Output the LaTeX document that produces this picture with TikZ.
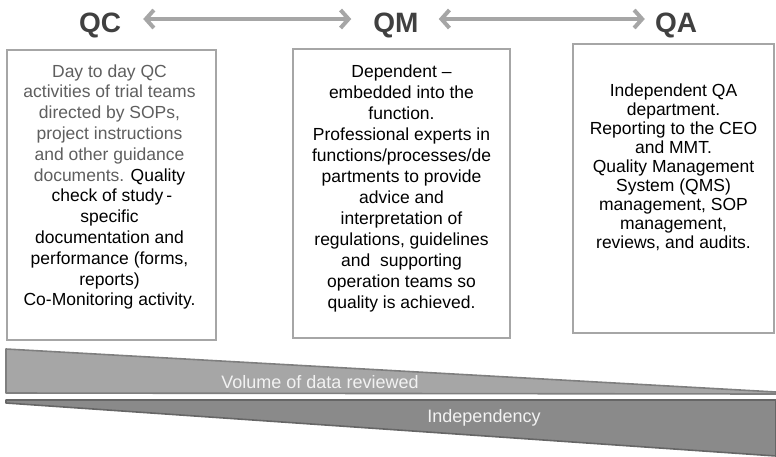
\documentclass[tikz,border=0pt]{standalone}
\usepackage{fontspec}
\setmainfont{Liberation Sans}
\usepackage{tikz}
\usetikzlibrary{arrows.meta,positioning}
\definecolor{titlegray}{HTML}{404040}
\definecolor{arrowgray}{HTML}{A6A6A6}
\definecolor{framegray}{HTML}{A6A6A6}
\definecolor{softtext}{HTML}{5F5F5F}
\definecolor{wedgelight}{HTML}{A6A6A6}
\definecolor{wedgedark}{HTML}{8A8A8A}
\definecolor{edgelight}{HTML}{7F7F7F}
\definecolor{edgedark}{HTML}{666666}

\begin{document}
\begin{tikzpicture}[x=1pt,y=-1pt,
		title/.style={inner sep=0pt,text height=20pt,text depth=0pt,text=titlegray,font=\fontsize{28}{30}\selectfont\bfseries},
		twoway/.style={arrowgray,line width=4pt,{Straight Barb[length=8pt,width=18pt]}-{Straight Barb[length=8pt,width=18pt]}},
		panel/.style={draw=framegray,line width=1.6pt,fill=white,inner sep=0pt},
		panetext/.style={inner sep=0pt,align=center,font=\fontsize{17.5}{#1}\selectfont},
		panetext/.default={20.8},
		bandtext/.style={inner sep=0pt,text=white!95!black,font=\fontsize{18}{20}\selectfont}]
	%\draw (0,0) grid[step=50] (776,456);
	\useasboundingbox (0,0) rectangle (776,456);
	% headings
	\node[title] (qc) at (100,22) {QC};
	\node[title] (qm) at (396,22) {QM};
	\node[title] (qa) at (676,22) {QA};
	\draw[twoway,shorten <=22pt,shorten >=22pt] ([yshift=3pt]qc.east) -- ([yshift=3pt]qm.west);
	\draw[twoway,shorten <=20pt,shorten >=10pt] ([yshift=3pt]qm.east) -- ([yshift=3pt]qa.west);
	% three boxes
	\node[panel,minimum width=209pt,minimum height=290pt] (qcbox) at (111.5,195) {};
	\node[panel,minimum width=217pt,minimum height=289pt] (qmbox) at (401.5,193.5) {};
	\node[panel,minimum width=201pt,minimum height=289pt] (qabox) at (673.5,188.5) {};
	\node[panetext,below=15pt of qcbox.north,xshift=-2pt] (qctext) {\color{softtext}Day to day QC\\
		\color{softtext}activities of trial teams\\
		\color{softtext}directed by SOPs,\\
		\color{softtext}project instructions\\
		\color{softtext}and other guidance\\
		{\color{softtext}documents.} Quality\\
		\ check of study\,-\\
		specific\\
		documentation and\\
		performance (forms,\\
		reports)\\
		Co-Monitoring activity.};
	\node[panetext=21,below=16pt of qmbox.north] (qmtext) {Dependent --\\
		embedded into the\\
		function.\\
		Professional experts in\\
		functions/processes/de\\
		partments to provide\\
		advice and\\
		interpretation of\\
		regulations, guidelines\\
		and\ \ supporting\\
		operation teams so\\
		quality is achieved.};
	\node[panetext=19,below=40pt of qabox.north] (qatext) {Independent QA\\
		department.\\
		Reporting to the CEO\\
		and MMT.\\
		Quality Management\\
		System (QMS)\\
		management, SOP\\
		management,\\
		reviews, and audits.};
	% wedges at the bottom
	\draw[fill=wedgelight,draw=edgelight,line width=1.6pt,line join=round] (6,349) -- (776,392) -- (776,394) -- (6,393) -- cycle;
	\draw[fill=wedgedark,draw=edgedark,line width=1.6pt,line join=round] (6,400) -- (776,400) -- (776,456) -- (6,403) -- cycle;
	\node[bandtext] (volume) at (320,382) {Volume of data reviewed};
	\node[bandtext] (indep) at (484,418) {Independency};
\end{tikzpicture}
\end{document}
